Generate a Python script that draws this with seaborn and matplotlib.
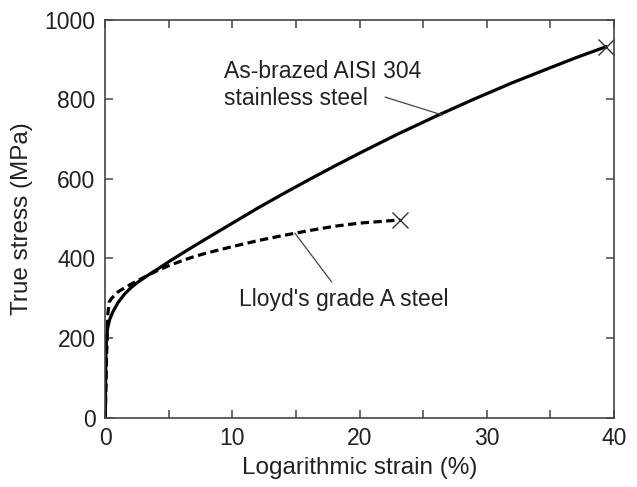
import matplotlib
matplotlib.use("Agg")
import matplotlib.pyplot as plt
import seaborn as sns
import pandas as pd

# True stress / logarithmic strain curves
strain_304 = [0, 0.03, 0.06, 0.1, 0.2, 0.35, 0.6, 1.0, 1.5, 2.0, 2.5, 3.0, 3.5, 4.0,
              5, 6.5, 8, 10, 12, 14, 16, 18, 20, 23, 26, 29, 32, 35, 37, 39.4]
stress_304 = [0, 100, 170, 205, 228, 247, 266, 289, 310, 326, 339, 350, 361, 371,
              392, 422, 451, 489, 527, 563, 598, 632, 665, 713, 758, 801, 842, 880, 905, 933]

strain_lloyd = [0, 0.1, 0.2, 0.3, 0.5, 1.0, 1.5, 2.0, 3.0, 4.0, 5, 6, 7, 8, 10,
                12, 14, 16, 18, 20, 22, 23.2]
stress_lloyd = [0, 150, 260, 290, 300, 316, 326, 335, 352, 368, 382, 394, 405, 414, 430,
                445, 458, 470, 481, 489, 494, 497]

names = ["As-brazed AISI 304\nstainless steel", "Lloyd's grade A steel"]

# label anchors (last-line baseline) and leader lines, in data coordinates
label_xy = [(9.35, 786), (10.5, 280)]
leader_from = [(22.0, 806), (17.8, 341)]
leader_to = [(26.5, 761), (14.9, 464)]

x_ticks = [0, 10, 20, 30, 40]
y_ticks = [0, 200, 400, 600, 800, 1000]

df = pd.concat([
    pd.DataFrame({"strain": strain_304, "stress": stress_304, "material": names[0]}),
    pd.DataFrame({"strain": strain_lloyd, "stress": stress_lloyd, "material": names[1]}),
])

sns.set_theme(style="ticks")
plt.rcParams["font.family"] = ["Liberation Sans", "DejaVu Sans"]
ink = "#222222"

fig = plt.figure(figsize=(6.37, 4.87), dpi=100)
ax = fig.add_axes([0.1653, 0.1427, 0.7986, 0.8163])

sns.lineplot(data=df, x="strain", y="stress", style="material",
             dashes={names[0]: "", names[1]: (2.6, 1.4)},
             color="black", lw=2.3, estimator=None, sort=False,
             legend=False, ax=ax)

# fracture points
for xs, ys in [(strain_304, stress_304), (strain_lloyd, stress_lloyd)]:
    ax.plot(xs[-1], ys[-1], marker="x", ms=11, mew=1.0, color="#333333",
            ls="none", zorder=5)

for name, (tx, ty), p0, p1 in zip(names, label_xy, leader_from, leader_to):
    ax.text(tx, ty, name, fontsize=16.5, color=ink, va="baseline", ha="left",
            linespacing=1.25)
    ax.annotate("", xy=p1, xytext=p0,
                arrowprops=dict(arrowstyle="-", lw=0.9, color="#444444",
                                shrinkA=0, shrinkB=0))

ax.set_xlim(0, 40)
ax.set_ylim(0, 1000)
ax.set_xticks(x_ticks)
ax.set_xticks([5, 15, 25, 35], minor=True)
ax.set_yticks(y_ticks)
ax.tick_params(which="both", direction="in", length=6, width=1.1,
               color="#444444", top=True, right=True,
               labelsize=16.5, labelcolor=ink, pad=7)
for s in ax.spines.values():
    s.set_color("#444444")
    s.set_linewidth(1.2)

ax.set_xlabel("Logarithmic strain (%)", fontsize=17.5, color=ink, labelpad=5)
ax.set_ylabel("True stress (MPa)", fontsize=17.5, color=ink, labelpad=8)

fig.savefig("out.png", dpi=100)
